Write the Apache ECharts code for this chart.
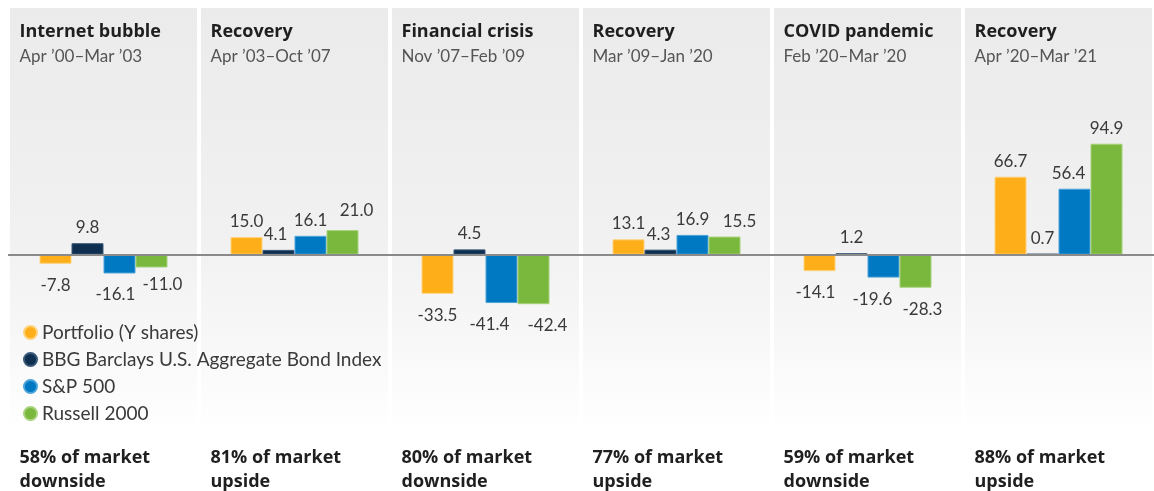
<!DOCTYPE html>
<html>
<head>
<meta charset="utf-8">
<script src="https://cdn.jsdelivr.net/npm/echarts@6/dist/echarts.min.js"></script>
<style>
html,body{margin:0;padding:0;background:#fff;}
#chart{width:1154px;height:491px;}
</style>
</head>
<body>
<div id="chart"></div>
<script>
// ---- data ----
const periods = ['Internet bubble', 'Recovery', 'Financial crisis', 'Recovery', 'COVID pandemic', 'Recovery'];
const periodDates = ['Apr ’00–Mar ’03', 'Apr ’03–Oct ’07', 'Nov ’07–Feb ’09', 'Mar ’09–Jan ’20', 'Feb ’20–Mar ’20', 'Apr ’20–Mar ’21'];
const captureNotes = ['58% of market\ndownside', '81% of market\nupside', '80% of market\ndownside', '77% of market\nupside', '59% of market\ndownside', '88% of market\nupside'];
const seriesNames = ['Portfolio (Y shares)', 'BBG Barclays U.S. Aggregate Bond Index', 'S&P 500', 'Russell 2000'];
const portfolio = [-7.8, 15.0, -33.5, 13.1, -14.1, 66.7];
const bondIndex = [9.8, 4.1, 4.5, 4.3, 1.2, 0.7];
const sp500 = [-16.1, 16.1, -41.4, 16.9, -19.6, 56.4];
const russell2000 = [-11.0, 21.0, -42.4, 15.5, -28.3, 94.9];
const yAxisTitle = '(Return %)';

// ---- styling ----
const colors = ['#FDAE19', '#0E2F4F', '#0079C2', '#7AB73D'];
const borderColors = ['#FFD27A', '#3A5878', '#4DA3DA', '#A6D27A'];
const FONT = 'Lato, "Noto Sans", sans-serif';
const BOLD_FONT = '"Open Sans", "Noto Sans", sans-serif';
const valuesList = [portfolio, bondIndex, sp500, russell2000];
// small horizontal nudges of value labels (pixels), per series and period, to keep them from colliding
const labelNudgeX = [
  [0, 0, 0, 0, -4, 0],
  [0, -3, 0, -2, 0, 0],
  [-4, 0, -12, 0, -11, -6],
  [11, 14, 14, 15, 7, 0]
];
const labelNudgeY = [
  [0, 0, 0, 0, 0, 0],
  [0, 0, 0, 0, 0, 0],
  [0, 0, 0, 0, 0, 0],
  [-4, -4, 0, 0, 0, 0]
];

const cats = periods.map((p, i) => i + '');

const chart = echarts.init(document.getElementById('chart'), null, {renderer: 'canvas'});

const series = valuesList.map((vals, si) => ({
  name: seriesNames[si],
  type: 'bar',
  xAxisIndex: 0,
  barWidth: 32,
  barGap: '0%',
  itemStyle: {color: colors[si], borderColor: borderColors[si], borderWidth: 1},
  label: {
    show: true,
    fontFamily: FONT,
    fontSize: 17,
    color: '#3a3a3a',
    formatter: p => p.value.toFixed(1)
  },
  data: vals.map((v, i) => ({
    value: v,
    label: v < 0
      ? {position: 'bottom', distance: 13, offset: [labelNudgeX[si][i], labelNudgeY[si][i]]}
      : {position: 'top', distance: 7, offset: [labelNudgeX[si][i], labelNudgeY[si][i]]}
  })),
  markLine: si === 0 ? {
    silent: true,
    symbol: 'none',
    label: {show: false},
    lineStyle: {color: '#8a8a8a', width: 2, type: 'solid'},
    data: [{yAxis: 0}],
    z: 10
  } : undefined,
  z: 3
}));

const option = {
  animation: false,
  backgroundColor: '#ffffff',
  color: colors,
  grid: {left: 8, right: 0, top: 8, bottom: 61, containLabel: false},
  legend: {
    orient: 'vertical',
    left: 18,
    top: 318,
    icon: 'circle',
    itemWidth: 13,
    itemHeight: 13,
    itemGap: 8,
    textStyle: {fontFamily: FONT, fontSize: 19, color: '#3a3a3a'},
    data: seriesNames
  },
  xAxis: [
    {
      type: 'category',
      data: cats,
      position: 'bottom',
      boundaryGap: true,
      axisLine: {show: false, onZero: false},
      axisTick: {show: false},
      axisLabel: {
        show: true,
        margin: 16,
        interval: 0,
        width: 168,
        formatter: (v, i) => captureNotes[i].split('\n').map(s => '{b|' + s + '}').join('\n'),
        rich: {
          b: {fontFamily: BOLD_FONT, fontSize: 18, fontWeight: 'bold', color: '#1f1f1f', lineHeight: 24, align: 'left', width: 168}
        }
      },
      splitLine: {show: false},
      splitArea: {
        show: true,
        interval: 0,
        areaStyle: {
          color: [new echarts.graphic.LinearGradient(0, 0, 0, 1, [
            {offset: 0, color: '#ebebeb'},
            {offset: 0.55, color: '#f1f1f1'},
            {offset: 0.8, color: '#f8f8f8'},
            {offset: 1, color: '#ffffff'}
          ])]
        }
      }
    },
    {
      type: 'category',
      data: cats,
      position: 'top',
      boundaryGap: true,
      axisLine: {show: false},
      axisTick: {show: false},
      axisLabel: {
        show: true,
        inside: true,
        margin: 11,
        interval: 0,
        width: 168,
        formatter: (v, i) => '{t|' + periods[i] + '}\n{s|' + periodDates[i] + '}',
        rich: {
          t: {fontFamily: BOLD_FONT, fontSize: 18, fontWeight: 'bold', color: '#1f1f1f', lineHeight: 25, align: 'left', width: 168},
          s: {fontFamily: FONT, fontSize: 17, color: '#555555', lineHeight: 25, align: 'left', width: 168}
        }
      },
      splitLine: {show: true, interval: 0, lineStyle: {color: '#ffffff', width: 4}}
    }
  ],
  yAxis: {
    type: 'value',
    min: -150,
    max: 211,
    show: false
  },
  graphic: [
    {
      type: 'text',
      left: 14,
      top: 99,
      rotation: Math.PI / 2,
      style: {text: yAxisTitle, fontFamily: FONT, fontSize: 17, fill: '#3a3a3a'}
    }
  ],
  series: series
};

chart.setOption(option);
</script>
</body>
</html>
